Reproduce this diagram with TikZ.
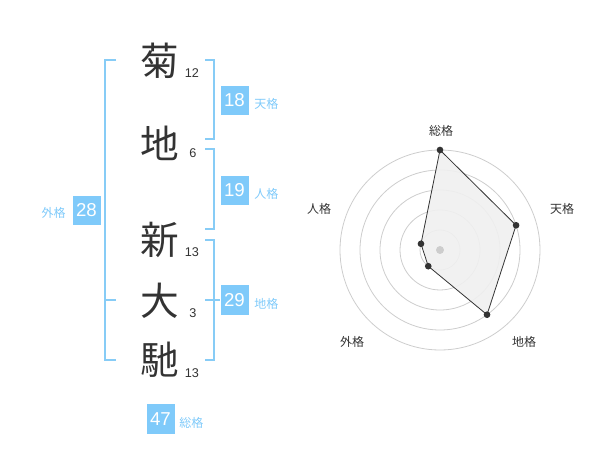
\documentclass[tikz,border=0pt]{standalone}
\usepackage{fontspec}
\newfontfamily\cjk{Noto Sans CJK JP}
\newfontfamily\num{Liberation Sans}
\definecolor{kblue}{RGB}{127,202,250}
\definecolor{kline}{RGB}{135,204,246}
\definecolor{ktext}{RGB}{51,51,51}
\definecolor{ring}{RGB}{205,205,205}
\begin{document}
\begin{tikzpicture}[x=0.75pt,y=-0.75pt,
  kanji/.style={font=\cjk\fontsize{29}{30}\selectfont,text=ktext,inner sep=0},
  strokes/.style={font=\num\fontsize{9.5}{10}\selectfont,text=ktext,inner sep=0},
  bracket/.style={draw=kline,line width=1.5pt},
  scorebox/.style={fill=kblue,text=white,minimum width=21pt,minimum height=22pt,inner sep=0,font=\num\fontsize{14}{15}\selectfont},
  kaku/.style={font=\cjk\fontsize{9}{10}\selectfont,text=kblue,inner sep=0,anchor=west},
  radlabel/.style={font=\cjk\fontsize{9}{10}\selectfont,text=ktext,inner sep=0},
  dot/.style={circle,fill=ktext,inner sep=0,minimum size=5pt}]
\useasboundingbox (0,0) rectangle (600,470);
% characters
\node[kanji] (c1) at (160,61) {菊};
\node[kanji] (c2) at (160,143) {地};
\node[kanji] (c3) at (160,240) {新};
\node[kanji] (c4) at (160,301) {大};
\node[kanji] (c5) at (160,360) {馳};
\node[strokes] (s1) at (192,73) {12};
\node[strokes] (s2) at (193,153) {6};
\node[strokes] (s3) at (192,252) {13};
\node[strokes] (s4) at (193,313) {3};
\node[strokes] (s5) at (192,373) {13};
% brackets
\draw[bracket] (116,60) -- (105,60) -- (105,360) -- (116,360);
\draw[bracket] (105,300) -- (116,300);
\draw[bracket] (205,60) -- (214,60) -- (214,139) -- (205,139);
\draw[bracket] (205,149) -- (214,149) -- (214,229) -- (205,229);
\draw[bracket] (205,240) -- (214,240) -- (214,360) -- (205,360);
\draw[bracket] (205,300) -- (220,300);
% boxes
\node[scorebox] (b18) at (234.5,100.5) {18};
\node[kaku] (l18) at (254,104) {天格};
\node[scorebox] (b19) at (234.5,190.5) {19};
\node[kaku] (l19) at (254,194) {人格};
\node[scorebox] (b28) at (86.5,210.5) {28};
\node[kaku,anchor=east] (l28) at (66,213) {外格};
\node[scorebox] (b29) at (234.5,300) {29};
\node[kaku] (l29) at (254,304) {地格};
\node[scorebox] (b47) at (160.5,419) {47};
\node[kaku] (l47) at (179,423) {総格};
% radar
\coordinate (o) at (440,250);
\foreach \r in {20,40,60,80,100}
  \draw[ring,line width=0.6pt] (o) circle[radius=\r];
\path (o) ++(0,-100) coordinate (p1);
\path (o) ++({80*cos(18)},{-80*sin(18)}) coordinate (p2);
\path (o) ++({80*cos(-54)},{-80*sin(-54)}) coordinate (p3);
\path (o) ++({20*cos(-126)},{-20*sin(-126)}) coordinate (p4);
\path (o) ++({20*cos(162)},{-20*sin(162)}) coordinate (p5);
\fill[black!6,opacity=0.9] (p1) -- (p2) -- (p3) -- (p4) -- (p5) -- cycle;
\draw[ktext,line width=0.6pt] (p1) -- (p2) -- (p3) -- (p4) -- (p5) -- cycle;
\node[circle,fill=ring,inner sep=0,minimum size=6pt] (center) at (o) {};
\foreach \p in {p1,p2,p3,p4,p5} \node[dot] at (\p) {};
\node[radlabel] (r1) at (441,131) {総格};
\node[radlabel] (r2) at (562,209) {天格};
\node[radlabel] (r3) at (524,342) {地格};
\node[radlabel] (r4) at (352,342) {外格};
\node[radlabel] (r5) at (319,209) {人格};
\end{tikzpicture}
\end{document}
